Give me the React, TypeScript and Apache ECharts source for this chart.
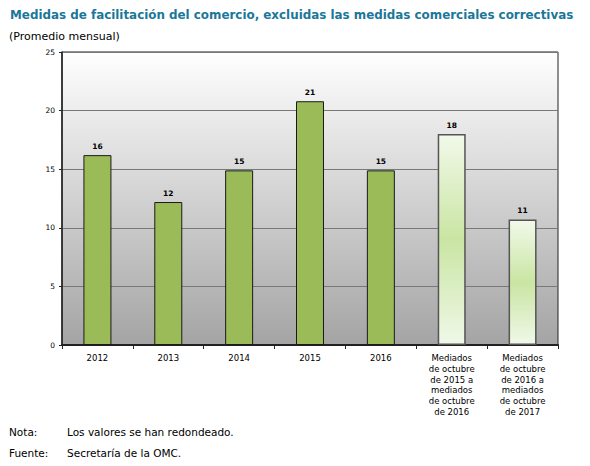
import React, { useEffect, useRef } from "react";
import * as echarts from "echarts";

const categories = [
  "2012",
  "2013",
  "2014",
  "2015",
  "2016",
  "Mediados\nde octubre\nde 2015 a\nmediados\nde octubre\nde 2016",
  "Mediados\nde octubre\nde 2016 a\nmediados\nde octubre\nde 2017",
];
const values = [16.2, 12.2, 14.9, 20.8, 14.9, 18.0, 10.7];
const lightBars = [false, false, false, false, false, true, true];
const yTicks = { min: 0, max: 25, interval: 5 };

const FONT = "'DejaVu Sans', Verdana, sans-serif";

export default function App() {
  const ref = useRef<HTMLDivElement>(null);
  useEffect(() => {
    document.body.style.margin = "0";
    if (!ref.current) return;
    const chart = echarts.init(ref.current, null, { renderer: "svg" });
    const lightGrad = new echarts.graphic.LinearGradient(0, 0, 0, 1, [
      { offset: 0, color: "#f2f9ea" },
      { offset: 0.5, color: "#c9e5a3" },
      { offset: 1, color: "#f0f8e8" },
    ]);
    chart.setOption({
      animation: false,
      backgroundColor: "#ffffff",
      title: [
        {
          text: "Medidas de facilitación del comercio, excluidas las medidas comerciales correctivas",
          left: 10,
          top: 9,
          padding: 0,
          textStyle: { fontFamily: FONT, fontSize: 11.9, fontWeight: "bold", color: "#1a7799" },
        },
        {
          text: "(Promedio mensual)",
          left: 9,
          top: 31,
          padding: 0,
          textStyle: { fontFamily: FONT, fontSize: 11, fontWeight: "normal", color: "#000" },
        },
      ],
      grid: {
        left: 62,
        top: 52,
        right: 32,
        bottom: 121,
        show: true,
        borderColor: "#222",
        borderWidth: 1,
        backgroundColor: new echarts.graphic.LinearGradient(0, 0, 0, 1, [
          { offset: 0, color: "#ffffff" },
          { offset: 1, color: "#a4a4a4" },
        ]),
      },
      xAxis: {
        type: "category",
        data: categories,
        axisLine: { lineStyle: { color: "#222", width: 2 } },
        axisTick: { show: true, alignWithLabel: false, length: 4, lineStyle: { color: "#222" } },
        axisLabel: {
          fontFamily: FONT,
          fontSize: 8.5,
          color: "#000",
          lineHeight: 10.7,
          margin: 8,
          interval: 0,
        },
      },
      yAxis: {
        type: "value",
        min: yTicks.min,
        max: yTicks.max,
        interval: yTicks.interval,
        axisLine: { show: true, lineStyle: { color: "#222", width: 1.5 } },
        axisTick: { show: true, length: 3, lineStyle: { color: "#222" } },
        axisLabel: { fontFamily: FONT, fontSize: 7.5, color: "#000", margin: 7 },
        splitLine: { lineStyle: { color: "#787878", width: 1 } },
      },
      series: [
        {
          type: "bar",
          barWidth: "39.5%",
          data: values.map((v, i) => ({
            value: v,
            itemStyle: lightBars[i]
              ? { color: lightGrad, borderColor: "#555", borderWidth: 1.5 }
              : { color: "#9bbb59", borderColor: "#1a1a1a", borderWidth: 1 },
          })),
          label: {
            show: true,
            position: "top",
            distance: 5,
            fontFamily: FONT,
            fontSize: 7.5,
            fontWeight: "bold",
            color: "#000",
            formatter: (p: any) => String(Math.round(p.value)),
          },
        },
      ],
      graphic: [
        { type: "text", left: 9, top: 426, style: { text: "Nota:", font: `10.5px ${FONT}`, fill: "#000" } },
        { type: "text", left: 67, top: 426, style: { text: "Los valores se han redondeado.", font: `10.5px ${FONT}`, fill: "#000" } },
        { type: "text", left: 9, top: 447, style: { text: "Fuente:", font: `10.5px ${FONT}`, fill: "#000" } },
        { type: "text", left: 67, top: 447, style: { text: "Secretaría de la OMC.", font: `10.5px ${FONT}`, fill: "#000" } },
      ],
    });
    return () => chart.dispose();
  }, []);
  return <div ref={ref} style={{ width: 590, height: 466 }} />;
}
